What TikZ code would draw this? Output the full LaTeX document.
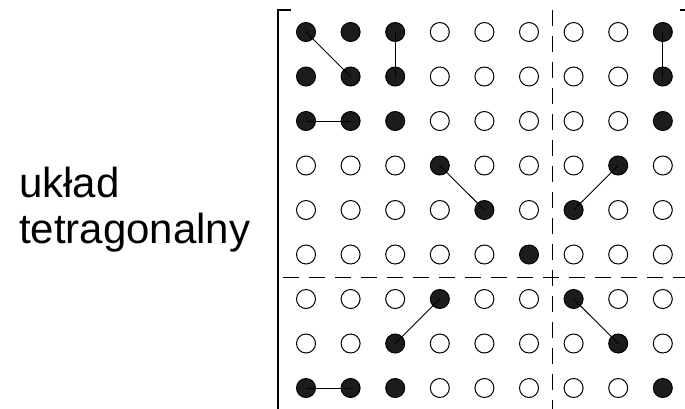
\documentclass[tikz,border=0pt]{standalone}
\usepackage{fontspec}
\setmainfont{Liberation Sans}
\definecolor{darkfill}{RGB}{28,28,28}
\newcommand\markocc[1]{\expandafter\gdef\csname occX#1\endcsname{}}
\begin{document}
\begin{tikzpicture}[x=1pt,y=-1pt,
  site/.style={circle, draw=black, line width=1pt, minimum size=19pt, inner sep=0pt, fill=white},
  occ/.style={site, fill=darkfill},
  bond/.style={line width=0.9pt, line cap=round},
  divider/.style={line width=1pt, dash pattern=on 16pt off 10pt},
  bracket/.style={line width=2pt},
  lbl/.style={anchor=base west, inner sep=0pt, font=\fontsize{42}{46}\selectfont}]
\useasboundingbox (0,0) rectangle (685,408);
% labels
\node[lbl] (l1) at (19,197) {układ};
\node[lbl] (l2) at (19,243) {tetragonalny};
% bracket
\coordinate (lbTick) at (291,10);
\coordinate (lbTop) at (278,10);
\coordinate (lbBot) at (278,410);
\draw[bracket] (lbTick) -- (lbTop) -- (lbBot);
\coordinate (rbTick) at (680,10);
\coordinate (rbTop) at (690,10);
\draw[bracket] (rbTick) -- (rbTop);
% dividers
\coordinate (vdT) at (552,10);
\coordinate (vdB) at (552,410);
\draw[divider] (vdT) -- (vdB);
\coordinate (hdL) at (283,277);
\coordinate (hdR) at (690,277);
\draw[divider] (hdL) -- (hdR);
% occupied sites
\foreach \p in {00,01,02,08,10,11,12,18,20,21,22,28,33,37,44,46,55,63,66,72,77,80,81,82,88} {\markocc{\p}}
% grid of sites
\foreach \r in {0,...,8} {
  \foreach \c in {0,...,8} {
    \ifcsname occX\r\c\endcsname \def\kind{occ}\else\def\kind{site}\fi
    \node[\kind] (s\r\c) at ({306+44.6*\c},{32+44.5*\r}) {};
  }
}
% bonds
\draw[bond] (s00.center) -- (s11.center);
\draw[bond] (s02.center) -- (s12.center);
\draw[bond] (s08.center) -- (s18.center);
\draw[bond] (s20.center) -- (s21.center);
\draw[bond] (s33.center) -- (s44.center);
\draw[bond] (s37.center) -- (s46.center);
\draw[bond] (s63.center) -- (s72.center);
\draw[bond] (s66.center) -- (s77.center);
\draw[bond] (s80.center) -- (s81.center);
\end{tikzpicture}
\end{document}
